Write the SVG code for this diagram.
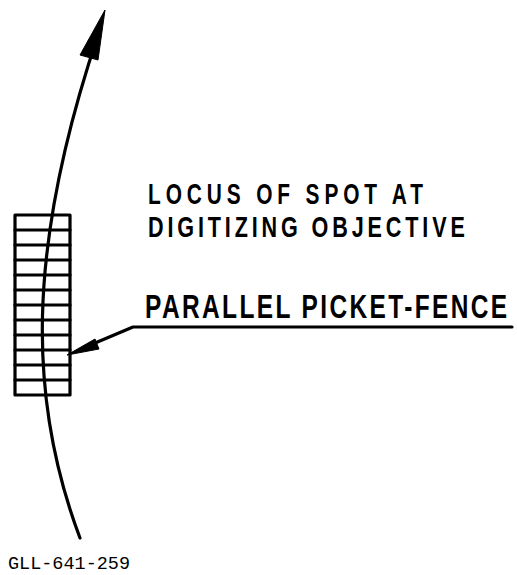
<svg xmlns="http://www.w3.org/2000/svg" width="517" height="575" viewBox="0 0 517 575">
<style>
.ln{fill:none;stroke:#000;stroke-width:3.2;stroke-linecap:round;stroke-linejoin:round}
.hd{fill:#000;stroke:#000;stroke-width:1}
.lbl{font-family:"Liberation Sans",Arial,sans-serif;font-weight:bold;fill:#000}
.id{font-family:"Liberation Mono","Courier New",monospace;fill:#000}
</style>
<rect width="517" height="575" fill="#fff"/>
<g id="fence">
<rect class="ln" x="15" y="215" width="55" height="180"/>
<path class="ln" d="M15,230H70M15,245H70M15,260H70M15,275H70M15,290H70M15,305H70M15,320H70M15,335H70M15,350H70M15,365H70M15,380H70"/>
</g>
<g id="connectors">
<path id="locus" class="ln" d="M80,538 C28,400 26,250 98,35"/>
<polygon class="hd" points="105,10 80,55 98,60"/>
<path id="leader" class="ln" d="M88,346 L133,327 L512,327"/>
<polygon class="hd" points="67,355 95,339 99,349"/>
</g>
<g id="label-locus">
<text class="lbl" transform="translate(148,204) scale(0.72,1)" font-size="29" textLength="382" lengthAdjust="spacing">LOCUS OF SPOT AT</text>
<text class="lbl" transform="translate(148,237) scale(0.72,1)" font-size="30" textLength="440" lengthAdjust="spacing">DIGITIZING OBJECTIVE</text>
</g>
<g id="label-fence">
<text class="lbl" transform="translate(145,318) scale(0.72,1)" font-size="34" textLength="503" lengthAdjust="spacing">PARALLEL PICKET-FENCE</text>
</g>
<text class="id" x="8" y="569" font-size="18" textLength="122" lengthAdjust="spacingAndGlyphs">GLL-641-259</text>
</svg>
